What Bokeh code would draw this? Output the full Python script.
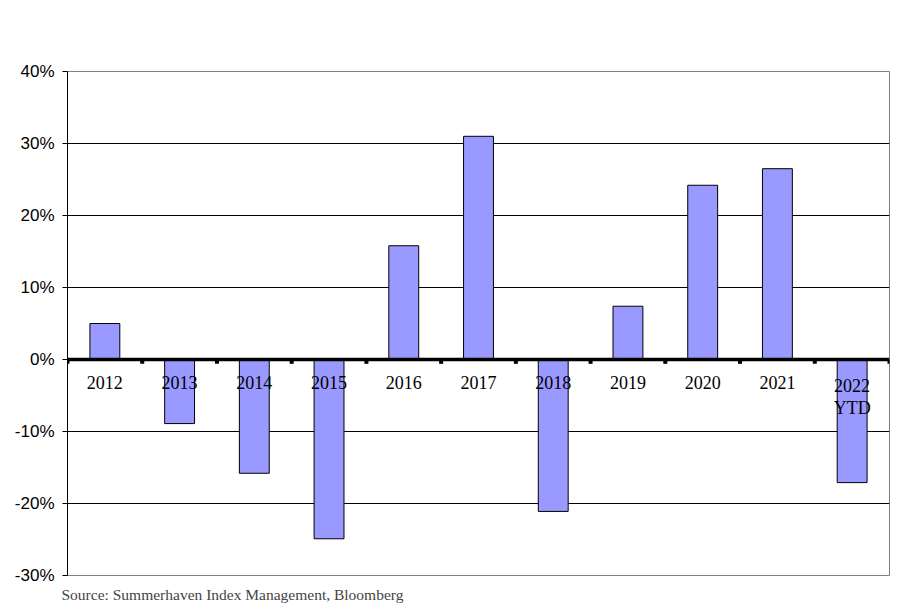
from bokeh.plotting import figure
from bokeh.models import Range1d, FixedTicker, PrintfTickFormatter, Span, Title, ColumnDataSource
from bokeh.core.properties import value
from bokeh.embed import file_html
from bokeh.resources import INLINE

years = ["2012", "2013", "2014", "2015", "2016", "2017", "2018", "2019", "2020", "2021", "2022\nYTD"]
returns = [5.0, -8.9, -15.8, -24.9, 15.8, 31.0, -21.1, 7.4, 24.2, 26.5, -17.1]
y_ticks = [-30, -20, -10, 0, 10, 20, 30, 40]
source_note = "Source: Summerhaven Index Management, Bloomberg"

n = len(years)
xs = [i + 0.5 for i in range(n)]
src = ColumnDataSource(dict(x=xs, top=returns, label=years, zero=[0] * n))

p = figure(width=892, height=612, output_backend="svg", toolbar_location=None,
           x_range=Range1d(0, n), y_range=Range1d(-30, 40),
           min_border_left=67, min_border_right=3, min_border_top=71, min_border_bottom=37)

p.xaxis.visible = False
p.xgrid.visible = False
p.ygrid.ticker = FixedTicker(ticks=[-20, -10, 10, 20, 30])
p.ygrid.grid_line_color = "black"
p.ygrid.grid_line_width = 1
p.outline_line_color = "#808080"
p.outline_line_width = 1

ya = p.yaxis[0]
ya.ticker = FixedTicker(ticks=y_ticks)
ya.formatter = PrintfTickFormatter(format="%d%%")
ya.axis_line_color = "black"
ya.major_tick_line_color = "black"
ya.major_tick_out = 5
ya.major_tick_in = 0
ya.minor_tick_line_color = None
ya.major_label_standoff = 8
ya.major_label_text_font = "Liberation Sans"
ya.major_label_text_font_size = "17px"
ya.major_label_text_color = "black"

p.vbar(x="x", top="top", bottom="zero", width=0.4, source=src,
       fill_color="#9999FF", line_color="black", line_width=1)

p.add_layout(Span(location=0, dimension="width", line_color="black", line_width=3.5))
p.segment(x0=list(range(n + 1)), y0=[0] * (n + 1), x1=list(range(n + 1)), y1=[-0.6] * (n + 1),
          line_color="black", line_width=4)

p.text(x="x", y="zero", text="label", source=src, text_align="center", text_baseline="top",
       y_offset=16, text_font=value("Liberation Serif"), text_font_size="18px",
       text_color="black", text_line_height=1.1)

t = Title(text=source_note, align="left", vertical_align="bottom",
          text_font="Liberation Serif", text_font_size="15.5px", text_font_style="normal",
          offset=-6, standoff=17)
p.add_layout(t, "below")

open("out.html", "w").write(file_html(p, INLINE))
